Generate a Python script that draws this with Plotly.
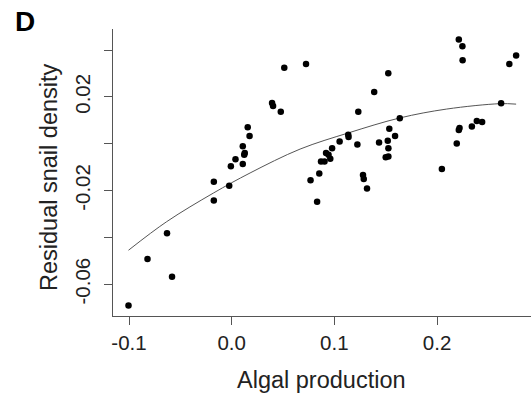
import plotly.graph_objects as go

# Data points (Algal production vs Residual snail density)
algal_production = [
    -0.1005, -0.0820, -0.0630, -0.0581, -0.0174, -0.0174, -0.0024, -0.0008,
    0.0037, 0.0108, 0.0108, 0.0127, 0.0122, 0.0156, 0.0174, 0.0393, 0.0403,
    0.0478, 0.0512, 0.0724, 0.0768, 0.0832, 0.0853, 0.0870, 0.0904, 0.0919,
    0.0943, 0.0960, 0.0978, 0.1051, 0.1135, 0.1138, 0.1224, 0.1233, 0.1279,
    0.1286, 0.1318, 0.1388, 0.1435, 0.1500, 0.1526, 0.1520, 0.1526, 0.1535,
    0.1525, 0.1591, 0.1637, 0.2047, 0.2192, 0.2212, 0.2219, 0.2212, 0.2247,
    0.2249, 0.2339, 0.2387, 0.2439, 0.2624, 0.2704, 0.2770,
]
residual_snail_density = [
    -0.0691, -0.0492, -0.0383, -0.0568, -0.0163, -0.0243, -0.0180, -0.0096,
    -0.0066, -0.0087, -0.0011, -0.0040, -0.0047, 0.0070, 0.0033, 0.0174, 0.0161,
    0.0137, 0.0325, 0.0341, -0.0156, -0.0248, -0.0127, -0.0076, -0.0076, -0.0040,
    -0.0047, -0.0064, -0.0019, 0.0009, 0.0038, 0.0029, -0.0003, 0.0137, -0.0134,
    -0.0151, -0.0191, 0.0221, 0.0005, -0.0058, -0.0055, 0.0013, -0.0019, 0.0064,
    0.0301, 0.0033, 0.0109, -0.0108, 0.0001, 0.0059, 0.0067, 0.0445, 0.0416,
    0.0356, 0.0073, 0.0097, 0.0093, 0.0173, 0.0341, 0.0377,
]

# Fitted curve
curve_x = [-0.1005, -0.0633, -0.0179, 0.0179, 0.0666, 0.1136, 0.1637, 0.2094, 0.2614, 0.2770]
curve_y = [-0.0455, -0.0333, -0.0211, -0.0125, -0.0023, 0.0046, 0.0110, 0.0148, 0.0171, 0.0169]

x_tickvals = [-0.1, 0.0, 0.1, 0.2]
x_ticktext = ["-0.1", "0.0", "0.1", "0.2"]
y_tickvals = [-0.06, -0.04, -0.02, 0.0, 0.02, 0.04]
y_ticktext = ["-0.06", "", "-0.02", "", "0.02", ""]

x_title = "Algal production"
y_title = "Residual snail density"
panel_label = "D"

FONT = "Liberation Sans, Arial, sans-serif"
AXIS_COLOR = "#555555"
TEXT_COLOR = "#222222"

W, H = 531, 393
ML, MR, MT, MB = 113, 0, 29, 77
PW, PH = W - ML - MR, H - MT - MB


def px_x(p):  # pixel -> paper x
    return (p - ML) / PW


def px_y(p):  # pixel (from top) -> paper y
    return (H - MB - p) / PH


fig = go.Figure()
fig.add_trace(go.Scatter(
    x=curve_x, y=curve_y, mode="lines", line_shape="spline",
    line=dict(color="#555555", width=1), hoverinfo="skip", showlegend=False,
))
fig.add_trace(go.Scatter(
    x=algal_production, y=residual_snail_density, mode="markers",
    marker=dict(color="black", size=6.5, line=dict(width=0)), showlegend=False,
    cliponaxis=False,
))

fig.update_layout(
    width=W, height=H,
    margin=dict(l=ML, r=MR, t=MT, b=MB),
    paper_bgcolor="white", plot_bgcolor="white",
    font=dict(family=FONT, color=TEXT_COLOR),
    xaxis=dict(
        range=[-0.1156, 0.2915], tickvals=x_tickvals, ticktext=x_ticktext,
        showgrid=False, zeroline=False, showline=True, linecolor=AXIS_COLOR, linewidth=1,
        ticks="outside", ticklen=8, tickcolor=AXIS_COLOR, tickwidth=1,
        tickfont=dict(size=20.5, family=FONT, color=TEXT_COLOR),
        automargin=False,
    ),
    yaxis=dict(
        range=[-0.0736, 0.049], tickvals=y_tickvals, ticktext=y_ticktext,
        showgrid=False, zeroline=False, showline=True, linecolor=AXIS_COLOR, linewidth=1,
        ticks="outside", ticklen=8, tickcolor=AXIS_COLOR, tickwidth=1, tickangle=-90,
        tickfont=dict(size=20.5, family=FONT, color=TEXT_COLOR),
        ticklabelstandoff=6,
        automargin=False,
    ),
    annotations=[
        dict(text=x_title, x=px_x(321), y=px_y(380), xref="paper", yref="paper",
             xanchor="center", yanchor="middle", showarrow=False,
             font=dict(size=23.5, family=FONT, color=TEXT_COLOR)),
        dict(text=y_title, x=px_x(49), y=px_y(177), xref="paper", yref="paper",
             xanchor="center", yanchor="middle", showarrow=False, textangle=-90,
             font=dict(size=23.5, family=FONT, color=TEXT_COLOR)),
        dict(text="<b>" + panel_label + "</b>", x=px_x(13), y=px_y(21), xref="paper", yref="paper",
             xanchor="left", yanchor="middle", showarrow=False,
             font=dict(size=28, family=FONT, color="black")),
    ],
)

fig.write_html(
    "out.html",
    config={"displayModeBar": False, "staticPlot": True},
    post_script="document.body.style.margin='0';document.body.style.padding='0';"
                "document.body.style.overflow='hidden';",
)
